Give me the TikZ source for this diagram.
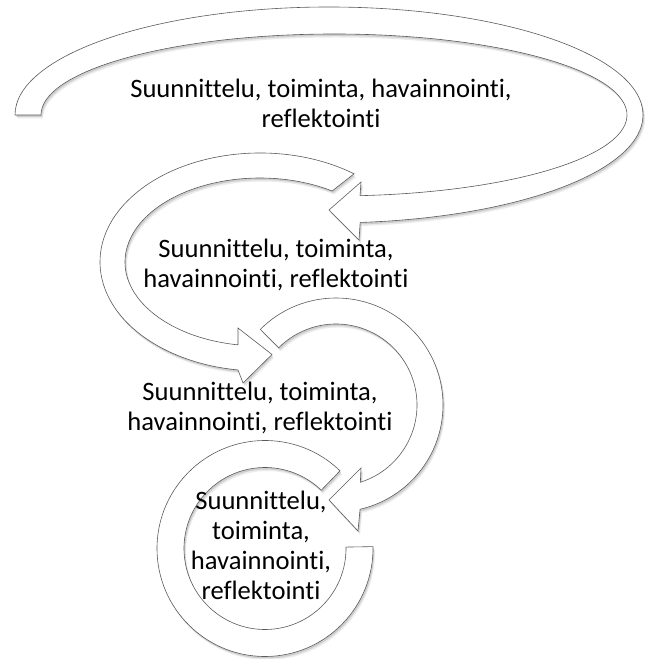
\documentclass[tikz,border=0pt]{standalone}
\usepackage{fontspec}
\setmainfont[Ligatures={NoCommon}]{Carlito}
\usepackage{tikz}
\usetikzlibrary{shadows}
\definecolor{bandline}{RGB}{90,90,90}
\tikzset{
  every node/.style={
    font=\fontsize{26.6}{30}\selectfont
  },
  cyclearrow/.style={
    draw=bandline,
    line width=0.6pt,
    fill=white,
    line join=miter,
    drop shadow={shadow xshift=2pt, shadow yshift=-3.5pt, opacity=0.08, fill=black},
    drop shadow={shadow xshift=1.2pt, shadow yshift=-2pt, opacity=0.12, fill=black}
  },
  cycletext/.style={
    align=center,
    inner sep=0pt,
    text=black
  }
}

\begin{document}
\begin{tikzpicture}[x=1pt, y=1pt]
    \useasboundingbox (0,0) rectangle (645,659);
    \coordinate (o1) at (329,544);
    \coordinate (i1) at (334,544);
    \coordinate (c2) at (260,397);
    \coordinate (c3) at (336,254);
    \coordinate (c4) at (265,110.5);
    \draw[cyclearrow] ([shift={(180:314pt and 108pt)}]o1)
      arc[start angle=180, end angle=-84.3, x radius=314pt, y radius=108pt]
      -- (359,419) -- (329,449) -- (361,477)
      -- ([shift={(-84.9:293pt and 81pt)}]i1)
      arc[start angle=-84.9, end angle=180, x radius=293pt, y radius=81pt]
      -- cycle;
    \draw[cyclearrow] ([shift={(54:160pt and 109pt)}]c2)
      arc[start angle=54, end angle=262.1, x radius=160pt, y radius=109pt]
      -- (243,276) -- (272,304.5) -- (238,331)
      -- ([shift={(260.6:135pt and 84pt)}]c2)
      arc[start angle=260.6, end angle=57.7, x radius=135pt, y radius=84pt]
      -- cycle;
    \draw[cyclearrow] ([shift={(135:107pt)}]c3)
      arc[start angle=135, end angle=-77, radius=107pt]
      -- (358,128) -- (329,159) -- (361,191)
      -- ([shift={(-72.5:81pt)}]c3)
      arc[start angle=-72.5, end angle=135, radius=81pt]
      -- cycle;
    \draw[cyclearrow] ([shift={(46:108pt)}]c4)
      arc[start angle=46, end angle=361, radius=108pt]
      -- ([shift={(361:81pt)}]c4)
      arc[start angle=361, end angle=46, radius=81pt]
      -- cycle;
    \node[cycletext] (stage1) at (321,556) {Suunnittelu, toiminta, havainnointi,\\reflektointi};
    \node[cycletext] (stage2) at (276,394) {Suunnittelu, toiminta,\\havainnointi, reflektointi};
    \node[cycletext] (stage3) at (260,251) {Suunnittelu, toiminta,\\havainnointi, reflektointi};
    \node[cycletext] (stage4) at (261,114) {Suunnittelu,\\toiminta,\\havainnointi,\\reflektointi};
\end{tikzpicture}
\end{document}
